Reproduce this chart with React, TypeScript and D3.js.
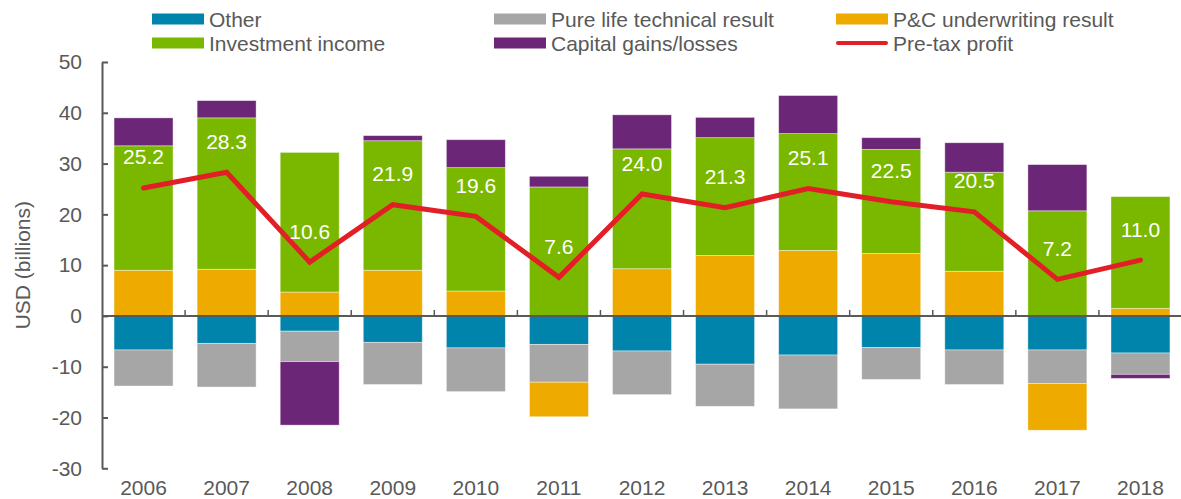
import * as d3 from "d3";
import { useEffect, useRef } from "react";

const years = ["2006", "2007", "2008", "2009", "2010", "2011", "2012", "2013", "2014", "2015", "2016", "2017", "2018"];
const other = [-6.7, -5.4, -3.0, -5.2, -6.3, -5.6, -6.9, -9.5, -7.7, -6.2, -6.7, -6.7, -7.3];
const pureLife = [-7.1, -8.6, -6.0, -8.3, -8.6, -7.45, -8.6, -8.3, -10.6, -6.3, -6.8, -6.6, -4.2];
const pcResult = [9.0, 9.2, 4.7, 9.0, 4.9, -6.8, 9.3, 11.9, 12.9, 12.3, 8.8, -9.2, 1.5];
const investment = [24.5, 29.8, 27.5, 25.5, 24.3, 25.4, 23.6, 23.2, 23.0, 20.5, 19.5, 20.7, 22.0];
const capitalGains = [5.5, 3.4, -12.5, 1.0, 5.5, 2.1, 6.7, 4.0, 7.5, 2.3, 5.8, 9.1, -0.8];
const preTax = [25.2, 28.3, 10.6, 21.9, 19.6, 7.6, 24.0, 21.3, 25.1, 22.5, 20.5, 7.2, 11.0];
const yTicks = [-30, -20, -10, 0, 10, 20, 30, 40, 50];

// stack order matters: negatives go Other -> Pure life -> P&C -> Capital gains
const seriesKeys = ["other", "pureLife", "pc", "inv", "cg"];
const seriesColors: Record<string, string> = {
  other: "#0084AB",
  pureLife: "#A6A6A6",
  pc: "#EFAA00",
  inv: "#7AB800",
  cg: "#6C2677",
};
const lineColor = "#E21E26";
const textColor = "#595959";

const legendItems = [
  { label: "Other", key: "other", x: 152, y: 19 },
  { label: "Pure life technical result", key: "pureLife", x: 494, y: 19 },
  { label: "P&C underwriting result", key: "pc", x: 836, y: 19 },
  { label: "Investment income", key: "inv", x: 152, y: 43 },
  { label: "Capital gains/losses", key: "cg", x: 494, y: 43 },
  { label: "Pre-tax profit", key: "line", x: 836, y: 43 },
];

export default function App() {
  const ref = useRef<SVGSVGElement>(null);

  useEffect(() => {
    const svg = d3.select(ref.current);
    svg.selectAll("*").remove();

    const W = 1181;
    const H = 499;
    const left = 102;
    const right = 1182;
    const top = 62;
    const bottom = 468.3;
    const font = "'Liberation Sans', Arial, sans-serif";

    const rows = years.map((y, i) => ({
      year: y,
      other: other[i],
      pureLife: pureLife[i],
      pc: pcResult[i],
      inv: investment[i],
      cg: capitalGains[i],
      profit: preTax[i],
    }));

    const x = d3.scaleBand().domain(years).range([left, right]).paddingInner(0.29).paddingOuter(0.145);
    const y = d3.scaleLinear().domain([-30, 50]).range([bottom, top]);

    const stacked = d3.stack<any>().keys(seriesKeys).offset(d3.stackOffsetDiverging)(rows);

    const g = svg.append("g").attr("font-family", font);

    // bars
    g.append("g")
      .selectAll("g")
      .data(stacked)
      .join("g")
      .attr("fill", (s) => seriesColors[s.key])
      .selectAll("rect")
      .data((s) => s)
      .join("rect")
      .attr("x", (d) => x(d.data.year)!)
      .attr("width", x.bandwidth())
      .attr("y", (d) => y(Math.max(d[0], d[1])))
      .attr("height", (d) => Math.abs(y(d[0]) - y(d[1])))
      .attr("stroke", "#fff")
      .attr("stroke-opacity", 0.5)
      .attr("stroke-width", 0.8);

    // y axis
    const yAxis = g
      .append("g")
      .attr("transform", `translate(${left},0)`)
      .call(
        d3
          .axisLeft(y)
          .tickValues(yTicks)
          .tickFormat((d) => String(d))
          .tickSizeInner(-6)
          .tickSizeOuter(0)
          .tickPadding(20)
      );
    yAxis.selectAll("path,line").attr("stroke", textColor).attr("stroke-width", 2);
    yAxis.selectAll("text").attr("fill", textColor).attr("font-size", 21).attr("font-family", font);

    // zero line with small ticks between bands
    const y0 = y(0);
    g.append("line")
      .attr("x1", left)
      .attr("x2", W)
      .attr("y1", y0)
      .attr("y2", y0)
      .attr("stroke", textColor)
      .attr("stroke-width", 2);
    const step = x.step();
    g.append("g")
      .selectAll("line")
      .data(years.slice(1))
      .join("line")
      .attr("x1", (_, i) => left + step * (i + 1))
      .attr("x2", (_, i) => left + step * (i + 1))
      .attr("y1", y0)
      .attr("y2", y0 - 6)
      .attr("stroke", textColor)
      .attr("stroke-width", 1.5);

    // category labels
    g.append("g")
      .selectAll("text")
      .data(years)
      .join("text")
      .attr("x", (d) => x(d)! + x.bandwidth() / 2)
      .attr("y", 487)
      .attr("text-anchor", "middle")
      .attr("dominant-baseline", "central")
      .attr("font-size", 21)
      .attr("fill", textColor)
      .text((d) => d);

    // pre-tax profit line
    const line = d3
      .line<any>()
      .x((d) => x(d.year)! + x.bandwidth() / 2)
      .y((d) => y(d.profit));
    g.append("path")
      .datum(rows)
      .attr("d", line)
      .attr("fill", "none")
      .attr("stroke", lineColor)
      .attr("stroke-width", 5)
      .attr("stroke-linecap", "round")
      .attr("stroke-linejoin", "miter");

    g.append("g")
      .selectAll("text")
      .data(rows)
      .join("text")
      .attr("x", (d) => x(d.year)! + x.bandwidth() / 2)
      .attr("y", (d) => y(d.profit) - 31)
      .attr("text-anchor", "middle")
      .attr("dominant-baseline", "central")
      .attr("font-size", 21)
      .attr("fill", "#fff")
      .text((d) => d.profit.toFixed(1));

    // y title
    g.append("text")
      .attr("transform", `translate(22, ${(top + bottom) / 2}) rotate(-90)`)
      .attr("text-anchor", "middle")
      .attr("dominant-baseline", "central")
      .attr("font-size", 21)
      .attr("fill", textColor)
      .text("USD (billions)");

    // legend
    const lg = g.append("g");
    legendItems.forEach((it) => {
      const item = lg.append("g").attr("transform", `translate(${it.x},${it.y})`);
      if (it.key === "line") {
        item
          .append("line")
          .attr("x1", 2)
          .attr("x2", 50)
          .attr("y1", 0)
          .attr("y2", 0)
          .attr("stroke", lineColor)
          .attr("stroke-width", 4)
          .attr("stroke-linecap", "round");
      } else {
        item.append("rect").attr("x", 0).attr("y", -5.5).attr("width", 52).attr("height", 11).attr("fill", seriesColors[it.key]);
      }
      item
        .append("text")
        .attr("x", 57)
        .attr("y", 0)
        .attr("dominant-baseline", "central")
        .attr("font-size", 21)
        .attr("fill", textColor)
        .text(it.label);
    });

    svg.attr("width", W).attr("height", H);
  }, []);

  return (
    <div style={{ position: "absolute", left: 0, top: 0, background: "#fff" }}>
      <svg ref={ref} width={1181} height={499} style={{ display: "block" }} />
    </div>
  );
}
